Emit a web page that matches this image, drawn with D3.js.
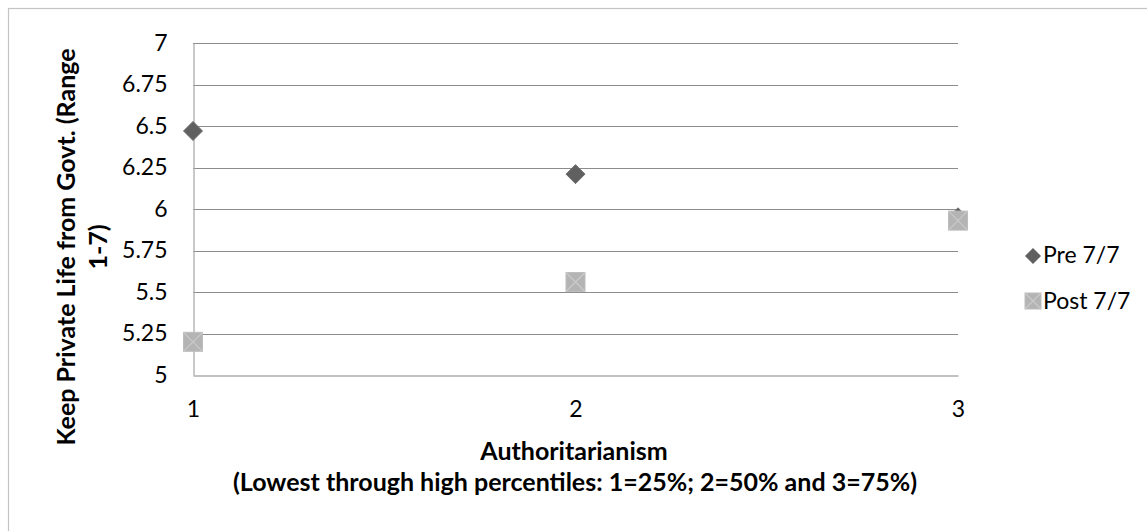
<!DOCTYPE html>
<html><head><meta charset="utf-8">
<script src="https://cdn.jsdelivr.net/npm/d3@7"></script>
<style>body{margin:0;background:#fff}svg{display:block}</style>
</head><body>
<script>
const categories = [1, 2, 3];
const preValues = [6.47, 6.21, 5.95];
const postValues = [5.20, 5.56, 5.93];
const seriesNames = ["Pre 7/7", "Post 7/7"];
const yTicks = [5, 5.25, 5.5, 5.75, 6, 6.25, 6.5, 6.75, 7];
const xTitle = ["Authoritarianism", "(Lowest through high percentiles: 1=25%; 2=50% and 3=75%)"];
const yTitle = ["Keep Private Life from Govt. (Range", "1-7)"];

const W = 1147, H = 531;
const font = "Lato, 'Liberation Sans', sans-serif";
const svg = d3.select("body").append("svg").attr("width", W).attr("height", H);

svg.append("rect").attr("x", 8.5).attr("y", 8.5).attr("width", W).attr("height", H)
  .attr("fill", "none").attr("stroke", "#c4c4c4").attr("stroke-width", 1.2);

const x = d3.scaleLinear().domain([1, 3]).range([193, 958]);
const y = d3.scaleLinear().domain([5, 7]).range([375, 43]);

// gridlines
svg.append("g").selectAll("line").data(yTicks.filter(t => t !== 5)).join("line")
  .attr("x1", x(1)).attr("x2", x(3))
  .attr("y1", d => Math.round(y(d)) + 0.5).attr("y2", d => Math.round(y(d)) + 0.5)
  .attr("stroke", "#8c8c8c").attr("stroke-width", 1);

// y axis
const yAxis = svg.append("g").attr("transform", `translate(${x(1) + 0.5},0)`)
  .call(d3.axisLeft(y).tickValues(yTicks).tickSize(0).tickPadding(26).tickFormat(d3.format("")));
yAxis.select(".domain").attr("stroke", "#acacac").attr("stroke-width", 1.3);
yAxis.selectAll("text").attr("font-family", font).attr("font-size", 23).attr("fill", "#000");

// x axis
const xAxis = svg.append("g").attr("transform", `translate(0,${Math.round(y(5)) + 0.5})`)
  .call(d3.axisBottom(x).tickValues(categories).tickSize(0).tickPadding(25).tickFormat(d3.format("d")));
xAxis.select(".domain").attr("stroke", "#acacac").attr("stroke-width", 1.3);
xAxis.selectAll("text").attr("font-family", font).attr("font-size", 23).attr("fill", "#000");

// diamonds
const ds = 9.5;
const diamond = `M0,${-ds}L${ds},0L0,${ds}L${-ds},0Z`;
svg.append("g").selectAll("path").data(categories.map((c, i) => [c, preValues[i]])).join("path")
  .attr("transform", d => `translate(${x(d[0])},${y(d[1])})`)
  .attr("d", diamond).attr("fill", "#606060").attr("stroke", "#6e6e6e").attr("stroke-width", 1);

// squares with X
function drawSquare(g, s) {
  g.append("rect").attr("x", -s).attr("y", -s).attr("width", 2 * s).attr("height", 2 * s)
    .attr("fill", "#b4b4b4").attr("stroke", "#bdbdbd").attr("stroke-width", 1);
  g.append("path").attr("d", `M${-s},${-s}L${s},${s}M${s},${-s}L${-s},${s}`)
    .attr("stroke", "#cacaca").attr("stroke-width", 1.2);
}
const sq = 9.5;
svg.append("g").selectAll("g").data(categories.map((c, i) => [c, postValues[i]])).join("g")
  .attr("transform", d => `translate(${x(d[0])},${y(d[1])})`)
  .each(function () { drawSquare(d3.select(this), sq); });

// axis titles
const xt = svg.append("text").attr("font-family", font).attr("font-weight", "bold")
  .attr("font-size", 25).attr("text-anchor", "middle").attr("fill", "#000");
xt.append("tspan").attr("x", 574).attr("y", 460).text(xTitle[0]);
xt.append("tspan").attr("x", 575).attr("y", 491).text(xTitle[1]);

const yt = svg.append("text").attr("font-family", font).attr("font-weight", "bold")
  .attr("font-size", 25).attr("text-anchor", "middle").attr("fill", "#000")
  .attr("transform", "translate(0,247) rotate(-90)");
yt.append("tspan").attr("x", 0).attr("y", 75).text(yTitle[0]);
yt.append("tspan").attr("x", 0).attr("y", 107).text(yTitle[1]);

// legend
const leg = svg.append("g");
const l1 = leg.append("g").attr("transform", "translate(1033,256)");
l1.append("path").attr("d", `M0,-8L8,0L0,8L-8,0Z`).attr("fill", "#606060");
leg.append("text").attr("x", 1043).attr("y", 263).attr("font-family", font).attr("font-size", 23).text(seriesNames[0]);
const l2 = leg.append("g").attr("transform", "translate(1033,301)");
drawSquare(l2, 8);
leg.append("text").attr("x", 1043).attr("y", 309).attr("font-family", font).attr("font-size", 23).text(seriesNames[1]);
</script>
</body></html>
